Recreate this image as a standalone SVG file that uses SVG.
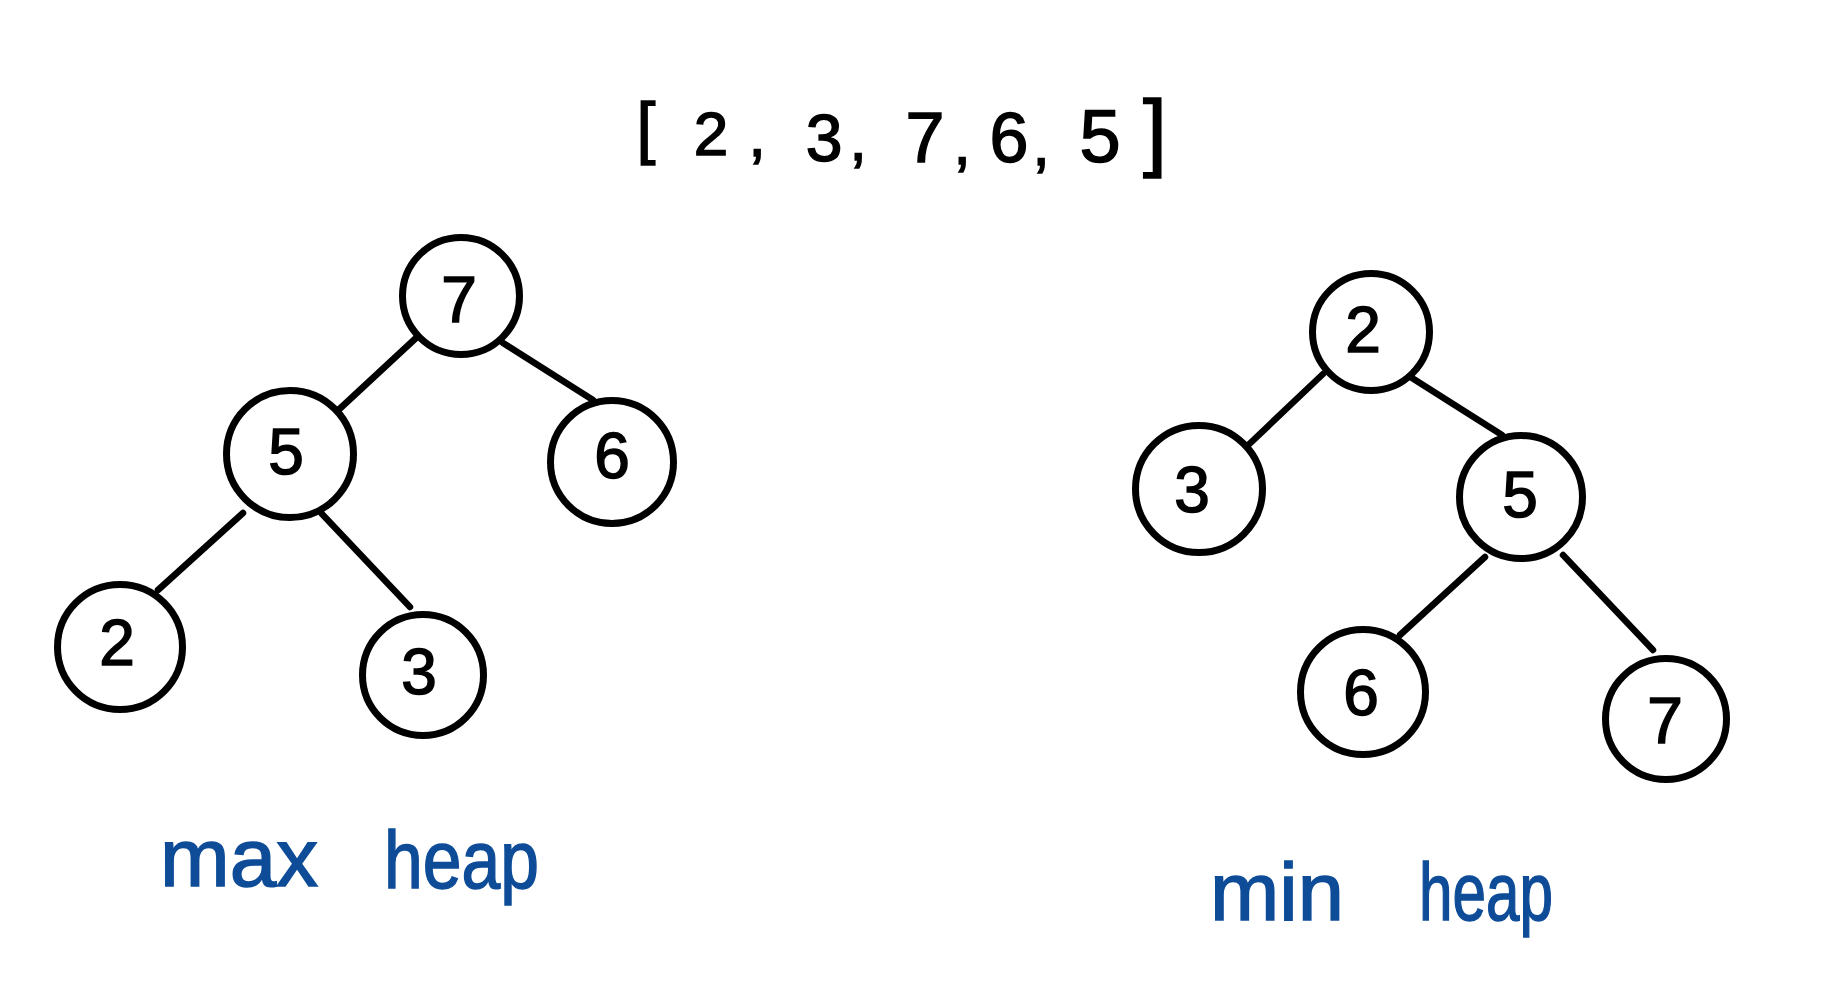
<svg xmlns="http://www.w3.org/2000/svg" width="1838" height="1000" viewBox="0 0 1838 1000">
<style>
.bg{fill:#ffffff}
.node circle{fill:#ffffff;stroke:#000000;stroke-width:7}
.node text{font-family:"Liberation Sans",Arial,sans-serif;font-size:64px;fill:#000000;stroke:#000000;stroke-width:1.5;text-anchor:middle;dominant-baseline:central}
.edges line{stroke:#000000;stroke-width:6.5;stroke-linecap:round}
.arr{font-family:"Liberation Sans",Arial,sans-serif;fill:#000000;stroke:#000000;stroke-width:1.5;text-anchor:middle}
.lbl{font-family:"Liberation Sans",Arial,sans-serif;font-size:82px;fill:#0e4c98;stroke:#0e4c98;stroke-width:1.5}
</style>
<rect class="bg" x="0" y="0" width="1838" height="1000"/>

<g id="array" class="arr">
  <text x="646" y="151" font-size="68">[</text>
  <text x="711" y="155" font-size="62">2</text>
  <text x="757" y="156" font-size="62">,</text>
  <text x="824" y="161" font-size="66">3</text>
  <text x="858" y="160" font-size="62">,</text>
  <text x="925" y="162" font-size="70">7</text>
  <text x="962" y="164" font-size="62">,</text>
  <text x="1009" y="162" font-size="70">6</text>
  <text x="1041" y="165" font-size="62">,</text>
  <text x="1100" y="162" font-size="74">5</text>
  <text x="1155" y="160" font-size="86">]</text>
</g>

<g id="connectors" class="edges">
  <line x1="416" y1="338" x2="333" y2="415"/>
  <line x1="503" y1="343" x2="593" y2="400"/>
  <line x1="243" y1="513" x2="158" y2="590"/>
  <line x1="322" y1="514" x2="410" y2="607"/>
  <line x1="1323" y1="374" x2="1243" y2="450"/>
  <line x1="1412" y1="378" x2="1502" y2="435"/>
  <line x1="1485" y1="557" x2="1400" y2="635"/>
  <line x1="1563" y1="555" x2="1653" y2="650"/>
</g>

<g id="max-7" class="node"><circle cx="461" cy="296" r="58.5"/><text x="459" y="300">7</text></g>
<g id="max-5" class="node"><circle cx="290" cy="454" r="63.5"/><text x="286" y="452">5</text></g>
<g id="max-6" class="node"><circle cx="612" cy="462" r="61.5"/><text x="612" y="456">6</text></g>
<g id="max-2" class="node"><circle cx="120" cy="647" r="62.5"/><text x="117" y="643">2</text></g>
<g id="max-3" class="node"><circle cx="423" cy="675" r="60.5"/><text x="419" y="672">3</text></g>

<g id="min-2" class="node"><circle cx="1371" cy="332" r="58.5"/><text x="1363" y="330">2</text></g>
<g id="min-3" class="node"><circle cx="1199" cy="489" r="63.5"/><text x="1192" y="490">3</text></g>
<g id="min-5" class="node"><circle cx="1521" cy="497" r="61.5"/><text x="1520" y="495">5</text></g>
<g id="min-6" class="node"><circle cx="1363" cy="692" r="62.5"/><text x="1361" y="693">6</text></g>
<g id="min-7" class="node"><circle cx="1666" cy="719" r="60.5"/><text x="1665" y="721">7</text></g>

<g id="label-max">
  <text class="lbl" x="160" y="886" textLength="158" lengthAdjust="spacingAndGlyphs">max</text>
  <text class="lbl" x="384" y="888" textLength="155" lengthAdjust="spacingAndGlyphs">heap</text>
</g>
<g id="label-min">
  <text class="lbl" x="1210" y="920" textLength="134" lengthAdjust="spacingAndGlyphs">min</text>
  <text class="lbl" x="1419" y="920" textLength="134" lengthAdjust="spacingAndGlyphs">heap</text>
</g>
</svg>
